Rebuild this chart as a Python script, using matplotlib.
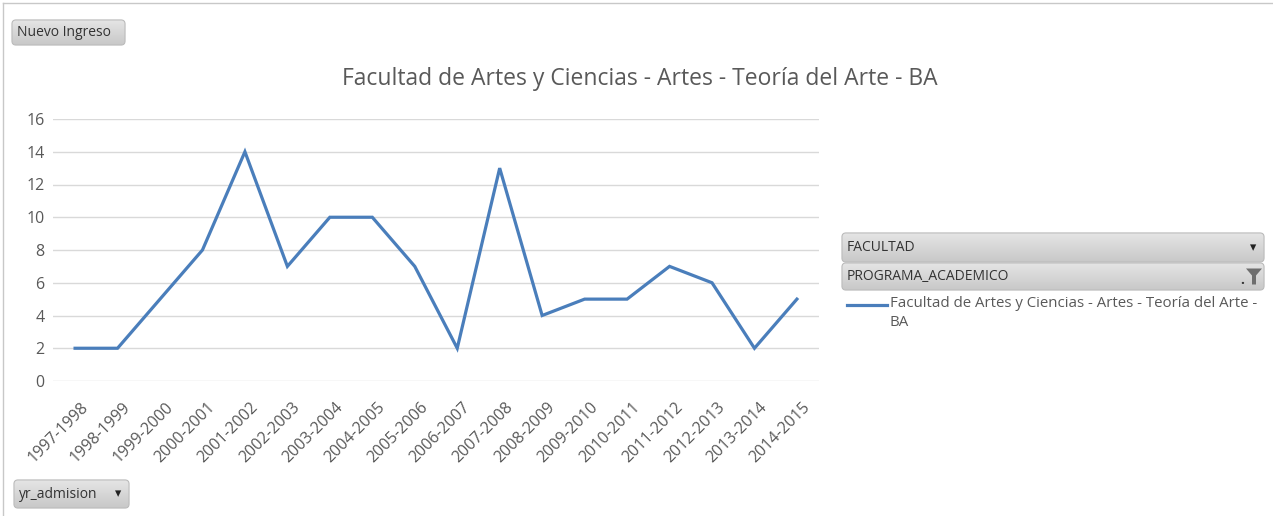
import matplotlib
matplotlib.use("Agg")
import matplotlib.pyplot as plt
import matplotlib.transforms as mtransforms
import numpy as np
from matplotlib.patches import FancyBboxPatch, Polygon
from matplotlib.lines import Line2D

years = ["1997-1998", "1998-1999", "1999-2000", "2000-2001", "2001-2002", "2002-2003",
         "2003-2004", "2004-2005", "2005-2006", "2006-2007", "2007-2008", "2008-2009",
         "2009-2010", "2010-2011", "2011-2012", "2012-2013", "2013-2014", "2014-2015"]
values = [2, 2, 5, 8, 14, 7, 10, 10, 7, 2, 13, 4, 5, 5, 7, 6, 2, 5]
yticks = [0, 2, 4, 6, 8, 10, 12, 14, 16]
title = "Facultad de Artes y Ciencias - Artes - Teoría del Arte - BA"
series_name = "Facultad de Artes y Ciencias - Artes - Teoría del Arte -\nBA"

plt.rcParams['font.family'] = ['Open Sans', 'DejaVu Sans']
TXT = '#595959'
LINE = '#4A7EBB'
W, H = 1273, 516

fig = plt.figure(figsize=(W/100, H/100), dpi=100)
fig.patch.set_facecolor('white')

def fx(px): return px / W
def fy(py): return 1 - py / H

ax = fig.add_axes([fx(53), fy(381), fx(819) - fx(53), fy(119) - fy(381)])
x = list(range(len(years)))
ax.plot(x, values, color=LINE, lw=2.3, solid_joinstyle='miter')
ax.set_xlim(-0.52, len(years) - 0.48)
ax.set_ylim(0, 16)
ax.set_yticks(yticks)
ax.set_xticks(x)
ax.set_xticklabels(years, rotation=45, ha='right', rotation_mode='anchor')
ax.grid(axis='y', color='#D9D9D9', lw=1)
ax.set_axisbelow(True)
for s in ax.spines.values():
    s.set_visible(False)
ax.tick_params(axis='both', length=0, colors=TXT, labelsize=11.5)
ax.tick_params(axis='y', pad=6)
ax.tick_params(axis='x', pad=13)
off = mtransforms.ScaledTranslation(5/100, 0, fig.dpi_scale_trans)
for lbl in ax.get_xticklabels():
    lbl.set_transform(lbl.get_transform() + off)

fig.text(fx(640), fy(79), title, ha='center', va='center', fontsize=16.5, color=TXT)

# frame lines
fig.add_artist(Line2D([fx(3), fx(3)], [0, fy(3)], color='#C8C8C8', lw=1))
fig.add_artist(Line2D([fx(3), 1], [fy(3), fy(3)], color='#C8C8C8', lw=1))

grad = np.linspace(0, 1, 64).reshape(-1, 1)
cmap = matplotlib.colors.LinearSegmentedColormap.from_list('g', ['#E6E6E6', '#C8C8C8'])

def button(x0, y0, x1, y1, label, arrow=None):
    w, h = x1 - x0, y1 - y0
    bax = fig.add_axes([fx(x0) - 0.002, fy(y1) - 0.004,
                        fx(x1) - fx(x0) + 0.004, fy(y0) - fy(y1) + 0.008])
    bax.set_axis_off()
    bax.set_xlim(-2.5, w + 2.5)
    bax.set_ylim(-2, h + 2)
    im = bax.imshow(grad, extent=[0, w, 0, h], aspect='auto', cmap=cmap, origin='upper')
    p = FancyBboxPatch((0, 0), w, h, boxstyle="round,pad=0,rounding_size=4",
                       transform=bax.transData, facecolor='none',
                       edgecolor='#BBBBBB', lw=0.8)
    bax.add_patch(p)
    im.set_clip_path(p)
    fig.text(fx(x0 + 5), fy((y0 + y1) / 2), label, ha='left', va='center',
             fontsize=10, color='#333333')
    if arrow == 'down':
        fig.text(fx(x1 - 11), fy((y0 + y1) / 2), '▾', ha='center', va='center',
                 fontsize=9, color='#222222', family=['DejaVu Sans'])
    elif arrow == 'filter':
        cx, cy = x1 - 10, (y0 + y1) / 2
        pts = [(cx - 8, cy - 8), (cx + 8, cy - 8), (cx + 2, cy - 1),
               (cx + 2, cy + 8), (cx - 2, cy + 8), (cx - 2, cy - 1)]
        fig.add_artist(Polygon([(fx(a), fy(b)) for a, b in pts], closed=True,
                               transform=fig.transFigure, facecolor='#6E6E6E',
                               edgecolor='none'))
        fig.text(fx(cx - 12), fy(cy + 4), '.', ha='center', va='center',
                 fontsize=10, color='#333333', fontweight='bold')

button(12, 20, 125, 45, "Nuevo Ingreso")
button(14, 480, 129, 508, "yr_admision", arrow='down')
button(842, 233, 1264, 262, "FACULTAD", arrow='down')
button(842, 263, 1264, 290, "PROGRAMA_ACADEMICO", arrow='filter')

fig.add_artist(Line2D([fx(847), fx(887)], [fy(305), fy(305)], color=LINE, lw=2.3))
fig.text(fx(890), fy(296), series_name, ha='left', va='top', fontsize=10.8,
         color=TXT, linespacing=1.35)

fig.savefig('out.png', dpi=100)
